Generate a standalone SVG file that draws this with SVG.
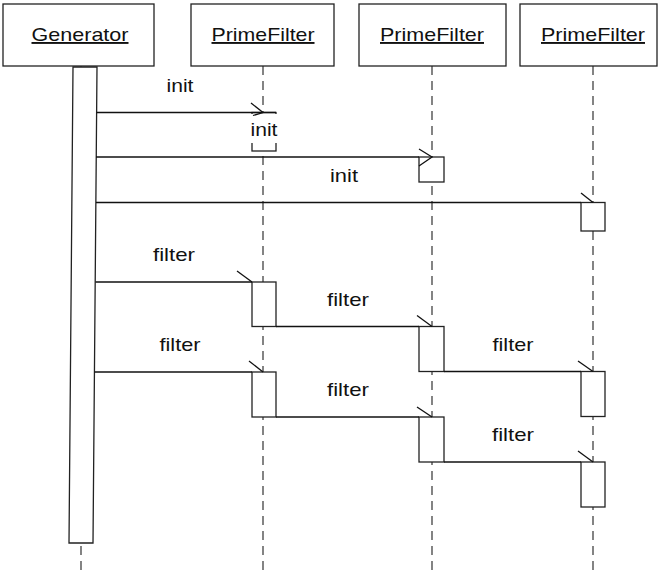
<svg xmlns="http://www.w3.org/2000/svg" width="658" height="571" viewBox="0 0 658 571">
  <style>
    .hdr { fill: #fff; stroke: #222; stroke-width: 1.3; }
    .hdr-text { font-family: "Liberation Sans", Arial, sans-serif; font-size: 19px; fill: #111; text-anchor: middle; text-decoration: underline; }
    .life { stroke: #505050; stroke-width: 1.4; stroke-dasharray: 9 6; fill: none; }
    .act { fill: #fff; stroke: #222; stroke-width: 1.3; }
    .msg { stroke: #111; stroke-width: 1.3; fill: none; }
    .lbl { font-family: "Liberation Sans", Arial, sans-serif; font-size: 19px; fill: #111; text-anchor: middle; }
  </style>

  <!-- lifelines -->
  <g id="lifelines">
    <line class="life" x1="81" y1="66" x2="81" y2="571"/>
    <line class="life" x1="263" y1="66" x2="263" y2="571"/>
    <line class="life" x1="432" y1="66" x2="432" y2="571"/>
    <line class="life" x1="593" y1="66" x2="593" y2="571"/>
  </g>

  <!-- participants -->
  <g id="generator">
    <rect class="hdr" x="3" y="4" width="151" height="62"/>
    <text class="hdr-text" x="80" y="41" textLength="97" lengthAdjust="spacingAndGlyphs">Generator</text>
    <polygon class="act" points="73,67 97,67 93,543 69,543"/>
  </g>
  <g id="primefilter1">
    <rect class="hdr" x="191" y="4" width="143" height="62"/>
    <text class="hdr-text" x="263" y="41" textLength="103" lengthAdjust="spacingAndGlyphs">PrimeFilter</text>
    <rect class="act" x="252" y="112.5" width="24" height="38.5"/>
    <rect x="250" y="114" width="28" height="29" fill="#fff"/>
    <rect class="act" x="252" y="282" width="24" height="44.5"/>
    <rect class="act" x="252" y="372" width="24" height="45"/>
  </g>
  <g id="primefilter2">
    <rect class="hdr" x="359" y="4" width="147" height="62"/>
    <text class="hdr-text" x="432" y="41" textLength="104" lengthAdjust="spacingAndGlyphs">PrimeFilter</text>
    <rect class="act" x="419" y="157" width="25" height="25"/>
    <rect class="act" x="419" y="326.5" width="25" height="45"/>
    <rect class="act" x="419" y="417" width="25" height="45"/>
  </g>
  <g id="primefilter3">
    <rect class="hdr" x="520" y="4" width="137" height="62"/>
    <text class="hdr-text" x="593" y="41" textLength="104" lengthAdjust="spacingAndGlyphs">PrimeFilter</text>
    <rect class="act" x="581" y="202.5" width="24" height="28.5"/>
    <rect class="act" x="581" y="371.5" width="24" height="45"/>
    <rect class="act" x="581" y="462" width="24" height="45"/>
  </g>

  <!-- messages -->
  <g id="connectors">
    <line class="msg" x1="96.5" y1="112.5" x2="276" y2="112.5"/>
    <polyline class="msg" points="251,103 263,112.5 253,115.5"/>

    <line class="msg" x1="96" y1="157" x2="419" y2="157"/>
    <polyline class="msg" points="419,149 432,157 419,166"/>

    <line class="msg" x1="96" y1="202.5" x2="581" y2="202.5"/>
    <line class="msg" x1="581" y1="193" x2="593" y2="202.5"/>

    <line class="msg" x1="95.5" y1="282" x2="252" y2="282"/>
    <line class="msg" x1="237" y1="271" x2="252" y2="282"/>

    <line class="msg" x1="276" y1="326.5" x2="419" y2="326.5"/>
    <line class="msg" x1="417" y1="315.5" x2="432" y2="326.5"/>

    <line class="msg" x1="444" y1="371.5" x2="581" y2="371.5"/>
    <line class="msg" x1="578" y1="361" x2="593" y2="371.5"/>

    <line class="msg" x1="94.5" y1="372" x2="252" y2="372"/>
    <line class="msg" x1="249" y1="361" x2="263" y2="372"/>

    <line class="msg" x1="276" y1="417" x2="419" y2="417"/>
    <line class="msg" x1="417" y1="407" x2="432" y2="417"/>

    <line class="msg" x1="444" y1="462" x2="581" y2="462"/>
    <line class="msg" x1="578" y1="451" x2="593" y2="462"/>
  </g>

  <!-- message labels -->
  <g id="labels">
    <text class="lbl" x="180" y="92" textLength="27" lengthAdjust="spacingAndGlyphs">init</text>
    <text class="lbl" x="264" y="136" textLength="27" lengthAdjust="spacingAndGlyphs">init</text>
    <text class="lbl" x="344" y="182" textLength="28" lengthAdjust="spacingAndGlyphs">init</text>
    <text class="lbl" x="174" y="261" textLength="42" lengthAdjust="spacingAndGlyphs">filter</text>
    <text class="lbl" x="348" y="305.5" textLength="42" lengthAdjust="spacingAndGlyphs">filter</text>
    <text class="lbl" x="180" y="350.5" textLength="41" lengthAdjust="spacingAndGlyphs">filter</text>
    <text class="lbl" x="513" y="350.5" textLength="41" lengthAdjust="spacingAndGlyphs">filter</text>
    <text class="lbl" x="348" y="396" textLength="42" lengthAdjust="spacingAndGlyphs">filter</text>
    <text class="lbl" x="513" y="441" textLength="42" lengthAdjust="spacingAndGlyphs">filter</text>
  </g>
</svg>
